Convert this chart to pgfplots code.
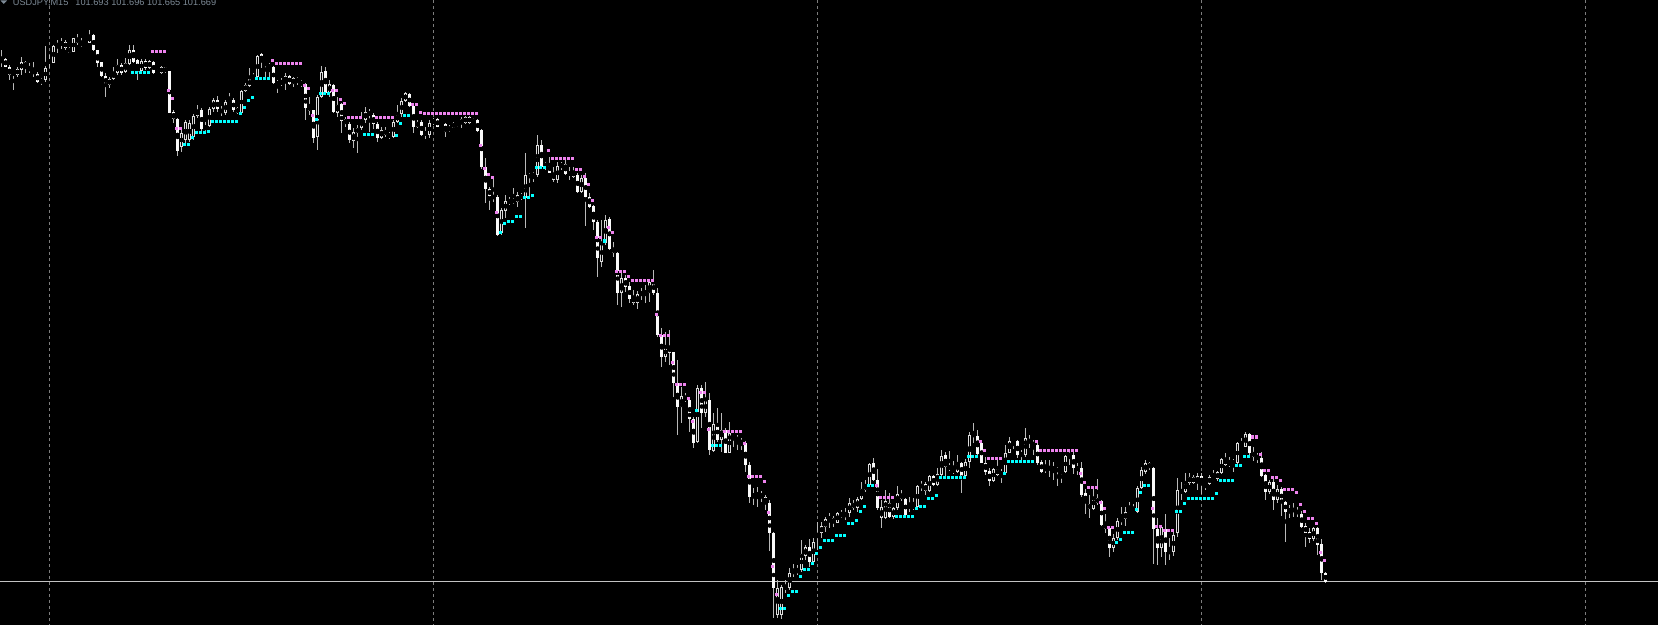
\documentclass[border=0pt]{standalone}
\usepackage{fontspec}
\setmainfont{Liberation Sans}
\usepackage{pgfplots}
\usepackage{pgfplotstable}
\pgfplotsset{compat=1.18}
\definecolor{wickc}{RGB}{185,185,185}
\definecolor{bullc}{RGB}{220,220,220}
\definecolor{bearc}{RGB}{250,250,250}
\definecolor{gridc}{RGB}{125,125,125}
\definecolor{bidc}{RGB}{195,195,195}
\definecolor{magc}{RGB}{238,130,238}
\definecolor{cyanc}{RGB}{0,255,255}
\definecolor{titlec}{RGB}{125,138,150}

\pgfplotstableread{
k o h l c
0 62 50 67 60
1 59 58 67 67
2 67 65 80 75
3 73 72 90 74
4 75 67 77 69
5 70 57 75 62
6 62 61 73 67
7 67 63 73 71
8 70 62 77 74
9 74 72 83 82
10 80 78 85 82
11 80 46 82 68
12 63 55 68 60
13 63 45 63 46
14 47 40 53 43
15 45 38 49 42
16 42 40 50 48
17 53 47 53 48
18 52 38 52 38
19 43 34 45 38
20 43 38 47 45
21 44 42 45 42
22 43 30 43 35
23 35 34 51 50
24 50 50 67 63
25 62 62 77 76
26 76 73 97 85
27 85 77 88 79
28 79 67 80 72
29 73 59 75 65
30 65 63 75 73
31 72 58 73 63
32 64 45 65 50
33 50 45 63 62
34 60 59 80 72
35 71 59 73 61
36 61 59 70 68
37 68 60 69 61
38 62 61 74 73
39 71 69 74 72.5
40 73 66 74 67
41 67 67 73 72
42 71 71 113 113
43 112 110 123 119
44 119 118 156 151
45 147 128 152 133
46 140 120 145 122
47 140 120 142 123
48 137 114 140 116
49 116 105 118 110
50 110 108 131 129
51 129 122 134 126
52 126 107 127 109
53 109 98 112 100
54 100 96 112 109
55 109 106 116 113
56 113 100 115 102
57 103 93 104 100
58 100 98 112 110
59 108 107 114 113
60 113 90 114 91
61 91 83 92 85
62 86 68 87 79
63 79 73 80 76
64 77 55 78 56
65 54 53 68 62
66 65 62 77 63
67 67 63 77 66
68 67 66 84 83
69 82 80 93 85
70 84 78 86 81
71 82 73 90 76
72 76 75 85 84
73 84 77 87 78
74 78 77 85 82
75 81 80 87 85
76 84 83 120 108
77 106 97 115 111
78 110 110 143 138
79 137 95 150 97
80 97 66 98 72
81 71 67 93 93
82 93 80 97 84
83 85 84 113 112
84 113 97 117 105
85 104 103 133 121
86 119 117 127 124
87 124 122 143 140
88 141 128 148 132
89 133 125 153 128
90 128 112 130 119
91 120 107 123 112
92 115 109 132 112
93 115 113 129 124
94 124 122 142 138
95 138 127 139 130
96 130 127 137 135
97 135 132 139 136.5
98 137 120 138 122
99 122 105 123 114
100 114 98 117 101
101 101 92 102 93
102 94 93 107 106
103 106 104 133 127
104 127 120 128 122
105 122 120 136 135
106 133 127 139 134
107 135 120 138 123
108 123 118 125 120
109 119 118 127 127
110 126 122 127 123
111 124 123 137 132
112 131 125 132 127
113 128 122 128 123
114 124 122 127 123
115 124 117 128 119
116 123 116 124 117
117 117 116 124 123
118 121 118 123 122
119 120 119 132 131
120 130 129 169 167
121 167 158 203 189
122 189 187 210 196
123 195 177 202 199
124 197 195 236 235
125 233 208 235 210
126 211 195 218 201
127 203 197 205 200
128 202 188 204 200
129 202 192 207 195
130 198 193 200 195
131 198 153 228 175
132 175 173 197 177
133 177 172 182 173
134 175 135 177 145
135 145 140 168 167
136 167 162 170 163
137 164 157 173 173
138 180 167 182 173
139 180 162 183 166
140 167 162 170 164
141 164 158 175 174
142 173 167 180 174
143 177 167 178 171
144 175 173 193 192
145 192 175 193 178
146 178 173 226 197
147 197 193 208 207
148 206 205 230 222
149 222 220 277 258
150 262 220 267 243
151 243 215 245 220
152 219 217 250 249
153 253 242 257 248
154 253 252 305 293
155 293 270 307 278
156 278 275 292 287
157 286 282 303 299
158 303 290 305 297
159 303 291 309 294
160 294 288 300 293
161 293 285 303 292
162 293 280 302 282
163 282 270 295 293
164 293 288 337 335
165 335 328 367 357
166 357 332 362 347
167 353 330 365 346
168 352 352 397 383
169 383 360 435 407
170 407 387 423 396
171 400 393 402 397
172 400 398 432 419
173 419 417 448 443
174 442 385 443 388
175 388 385 428 413
176 413 382 417 400
177 400 393 455 450
178 451 413 452 424
179 424 408 442 440
180 440 413 452 430
181 430 428 453 453
182 453 422 453 433
183 433 430 447 437
184 437 435 450 441
185 441 438 450 443
186 443 441 472 465
187 465 462 503 497
188 497 488 505 494
189 494 487 507 495
190 494 491 502 497
191 497 495 510 503
192 503 500 551 533
193 533 532 618 588
194 615 580 618 588
195 615 585 619 587
196 588 580 593 587
197 588 568 590 573
198 573 564 577 571
199 572 565 575 570
200 570 540 572 554
201 556 545 560 547
202 547 539 567 562
203 562 538 563 542
204 537 522 550 533
205 533 522 538 526
206 527 517 532 519
207 519 513 528 518
208 518 516 527 523
209 523 512 523 513
210 517 510 518 513
211 517 508 520 513
212 513 498 517 503
213 503 500 510 508
214 508 497 512 499
215 499 482 500 489
216 490 480 492 485
217 485 463 487 464
218 463 458 481 480
219 480 469 510 508
220 518 500 528 507
221 518 490 519 501
222 503 493 518 517
223 517 507 519 508
224 508 486 510 494
225 494 490 501 499
226 499 498 516 515
227 507 497 512 506
228 507 498 510 506
229 507 485 507 486
230 487 481 491 485
231 484 482 495 491
232 491 475 492 476
233 476 475 486 485
234 485 468 486 474
235 475 450 476 456
236 455 452 477 467
237 466 451 471 469
238 469 461 474 472
239 472 455 473 463
240 463 462 493 476
241 476 459 477 462
242 462 432 468 435
243 436 423 443 434
244 436 430 455 454
245 443 442 463 463
246 463 457 475 472
247 471 468 486 481
248 481 468 482 469
249 469 460 476 475
250 473 469 483 474
251 473 445 474 453
252 453 437 453 441
253 441 439 449 440
254 441 440 458 455
255 455 450 460 454
256 455 428 457 438
257 439 435 448 443
258 442 440 455 446
259 445 443 465 463
260 462 460 473 472
261 471 460 473 467
262 467 460 477 469
263 468 462 480 469
264 468 467 486 472
265 472 470 483 471
266 472 455 473 456
267 456 449 465 454
268 455 451 474 468
269 468 463 475 469
270 468 462 497 495
271 493 489 514 503
272 504 495 518 509
273 509 487 510 497
274 498 479 505 503
275 501 500 526 525
276 524 514 533 529
277 528 527 557 548
278 548 534 552 538
279 538 518 540 521
280 522 507 525 518
281 519 507 526 512
282 512 502 513 510
283 510 504 513 513
284 512 486 513 488
285 488 467 489 470
286 472 460 474 463
287 463 462 470 468
288 468 467 564 529
289 529 518 565 548
290 548 526 557 527
291 529 514 565 552
292 551 538 560 553
293 552 530 556 535
294 533 478 537 490
295 490 482 500 493
296 492 473 493 482
297 483 473 485 477
298 477 475 484 483
299 483 473 490 476
300 476 473 494 484
301 484 482 490 485
302 484 475 485 477
303 477 470 480 479
304 479 471 481 472
305 473 458 474 459
306 459 453 466 465
307 463 457 467 464
308 463 459 472 462
309 463 442 464 443
310 447 438 448 444
311 447 432 447 434
312 434 433 455 453
313 452 447 461 457
314 456 453 463 458
315 458 452 477 476
316 475 474 500 492
317 492 480 494 482
318 482 479 510 500
319 500 485 503 489
320 489 487 516 503
321 502 501 542 512
322 510 505 518 511
323 512 503 517 508
324 510 507 517 514
325 514 511 528 527
326 526 523 547 533
327 532 528 543 539
328 539 527 541 528
329 528 527 555 545
330 544 539 580 573
331 573 572 583 581.6
}\candles

\pgfplotstableread{
k y
38 51.3
39 51.3
40 51.3
41 51.3
42 90
43 98.3
44 128.3
45 128.3
68 60.3
69 63.3
70 63.3
71 63.3
72 63.3
73 63.3
74 63.3
75 63.3
76 85.3
77 88.3
78 115.3
83 90.3
84 90.3
85 99.3
86 103.3
87 117.3
88 117.3
89 117.3
90 117.3
94 117.3
95 117.3
96 117.3
97 117.3
98 117.3
103 104.3
104 104.3
105 112.3
106 113.3
107 113.3
108 113.3
109 113.3
110 113.3
111 113.3
112 113.3
113 113.3
114 113.3
115 113.3
116 113.3
117 113.3
118 113.3
119 113.3
120 145.3
121 168.3
122 174.3
123 177.3
124 212.3
137 150.3
138 158.3
139 158.3
140 158.3
141 158.3
142 158.3
143 158.3
144 169.3
145 169.3
146 176.3
147 184.3
148 200.3
149 237.3
150 237.3
152 227.3
153 232.3
154 271.3
155 271.3
156 271.3
157 276.3
158 280.3
159 280.3
160 280.3
161 280.3
162 280.3
163 280.3
164 314.3
165 335.3
166 335.3
167 335.3
168 362.3
169 384.3
170 384.3
171 384.3
172 398.3
173 421.3
175 392.3
176 392.3
177 429.3
181 431.3
182 431.3
183 431.3
184 431.3
185 431.3
186 443.3
187 476.3
188 476.3
189 476.3
190 476.3
191 481.3
192 512.3
193 566.3
194 594.3
219 485.3
220 497.3
221 497.3
222 497.3
223 497.3
245 441.3
246 450.3
247 458.3
248 458.3
249 458.3
250 458.3
259 441.3
260 450.3
261 450.3
262 450.3
263 450.3
264 450.3
265 450.3
266 450.3
267 450.3
268 450.3
269 450.3
270 473.3
271 482.3
272 487.3
273 487.3
274 487.3
275 502.3
276 508.3
277 527.3
278 527.3
288 508.3
289 526.3
290 526.3
291 530.3
292 530.3
293 530.3
313 436.7
314 436.7
315 454.3
316 470.3
317 470.3
318 477.3
319 477.3
320 480.3
321 489.3
322 489.3
323 489.3
324 492.3
325 504.3
326 511.3
327 518.3
328 518.3
329 523.3
330 552.3
331 560.3
}\magdots

\pgfplotstableread{
k y
33 72.3
34 72.3
35 72.3
36 72.3
37 72.3
46 144.3
47 144.3
48 137.3
49 132.3
50 132.3
51 132.3
52 131
53 121
54 121
55 121
56 121
57 121
58 121
59 121
60 113
61 107.3
62 100.3
63 97.3
64 78.3
65 78.3
66 78.3
67 78.3
79 119.3
80 93.3
81 93.3
82 93.3
91 134
92 134
93 134
99 135.3
100 123.3
101 115
102 115
125 232.3
126 223.3
127 221.3
128 221.3
129 216.3
130 216.3
131 197.3
132 197.3
133 195.3
134 167.3
135 167.3
136 167.3
151 240.7
174 410.3
178 445.3
179 445.3
180 445.3
195 608.3
196 608.3
197 595.3
198 591.3
199 591.3
200 576.3
201 569.3
202 569.3
203 563.3
204 553.3
205 547.3
206 540
207 540
208 540
209 535
210 535
211 535
212 523.3
213 523.3
214 520.3
215 511.3
216 506.3
217 485.3
218 485.3
224 516.3
225 516.3
226 516.3
227 516.3
228 516.3
229 508.3
230 506.3
231 506.3
232 498.3
233 498.3
234 495.3
235 477.3
236 477.3
237 477.3
238 477.3
239 477.3
240 477.3
241 477.3
242 456.3
243 456.3
244 456.3
251 473.3
252 461.3
253 461.3
254 461.3
255 461.3
256 461.3
257 461.3
258 461.3
279 542.3
280 539.3
281 532.3
282 532.3
283 532.3
284 509.3
285 492.3
286 485.3
287 485.3
294 511.3
295 511.3
296 503.3
297 498.3
298 498.3
299 498.3
300 498.3
301 498.3
302 498.3
303 498.3
304 493.3
305 480.3
306 480.3
307 480.3
308 480.3
309 465.3
310 465.3
311 456.3
312 456.3
}\cyandots

\begin{document}
\begin{tikzpicture}
\useasboundingbox (0,0) rectangle (1658pt,625pt);
\fill[black] (0,0) rectangle (1658pt,625pt);
\begin{axis}[
  at={(0pt,0pt)}, anchor=south west,
  scale only axis, width=1658pt, height=625pt,
  xmin=-0.425, xmax=414.075, ymin=0, ymax=625, y dir=reverse,
  axis line style={draw=none},
  xtick={12,108,204,300,396}, ytick=\empty, xticklabels={},
  major tick length=0pt, tick style={draw=none},
  xmajorgrids,
  major grid style={dash pattern=on 3pt off 3pt, line width=1pt, color=gridc},
]
\addplot[color=bidc, line width=1.3pt] coordinates {(-1,581.6) (415,581.6)};
% wicks
\addplot[only marks, mark=none,
  error bars/.cd, y dir=both, y explicit, error mark=none,
  error bar style={line width=1pt, draw=wickc}]
  table[x=k, y expr={(\thisrow{h}+\thisrow{l})/2}, y error expr={(\thisrow{l}-\thisrow{h})/2}] {\candles};
% bear bodies
\addplot[only marks, mark=none,
  error bars/.cd, y dir=both, y explicit, error mark=none,
  error bar style={line width=3.2pt, draw=bearc}]
  table[x=k, y expr={(\thisrow{o}+\thisrow{c})/2}, y error expr={max((\thisrow{c}-\thisrow{o})/2,0)}] {\candles};
% bull bodies outline
\addplot[only marks, mark=none,
  error bars/.cd, y dir=both, y explicit, error mark=none,
  error bar style={line width=3.2pt, draw=bullc}]
  table[x=k, y expr={(\thisrow{o}+\thisrow{c})/2}, y error expr={max((\thisrow{o}-\thisrow{c})/2,0)}] {\candles};
% bull bodies interior
\addplot[only marks, mark=none,
  error bars/.cd, y dir=both, y explicit, error mark=none,
  error bar style={line width=1.1pt, draw=black}]
  table[x=k, y expr={(\thisrow{o}+\thisrow{c})/2}, y error expr={max((\thisrow{o}-\thisrow{c})/2-1,0)}] {\candles};
% dots
\addplot[only marks, mark=square*, mark size=1.25pt, mark options={draw=magc, fill=magc}]
  table[x expr={\thisrow{k}-0.33}, y=y] {\magdots};
\addplot[only marks, mark=square*, mark size=1.25pt, mark options={draw=cyanc, fill=cyanc}]
  table[x expr={\thisrow{k}-0.33}, y=y] {\cyandots};
\end{axis}
\fill[color=titlec] (0.5pt,624.5pt) -- (7pt,624.5pt) -- (3.75pt,621pt) -- cycle;
\node[anchor=base west, inner sep=0pt, text=titlec, font=\fontsize{9.2}{11}\selectfont] at (12.7pt,619pt) {USDJPY,M15\hspace{7pt}101.693 101.696 101.665 101.669};
\end{tikzpicture}
\end{document}
